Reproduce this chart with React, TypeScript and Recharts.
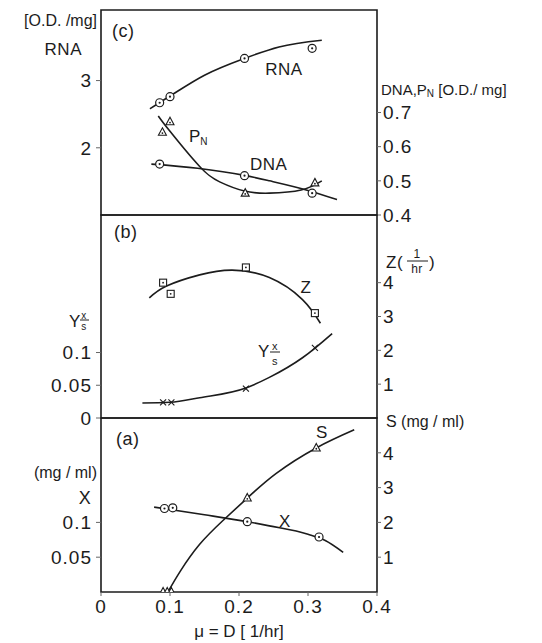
import {
  ComposedChart,
  XAxis,
  YAxis,
  Line,
  Scatter,
  ReferenceArea,
} from "recharts";

// ---- panel (c): RNA (left axis), DNA and P_N (right axis) ----
const rnaPoints = [
  { x: 0.085, y: 2.67 },
  { x: 0.1, y: 2.76 },
  { x: 0.208, y: 3.33 },
  { x: 0.306, y: 3.48 },
];
const rnaCurve = [
  { x: 0.071, y: 2.58 },
  { x: 0.1, y: 2.77 },
  { x: 0.15, y: 3.08 },
  { x: 0.208, y: 3.33 },
  { x: 0.258, y: 3.5 },
  { x: 0.32, y: 3.6 },
];
const dnaPoints = [
  { x: 0.085, y: 0.549 },
  { x: 0.208, y: 0.515 },
  { x: 0.306, y: 0.464 },
];
const dnaCurve = [
  { x: 0.073, y: 0.549 },
  { x: 0.14, y: 0.537 },
  { x: 0.208, y: 0.516 },
  { x: 0.244, y: 0.5 },
  { x: 0.3, y: 0.472 },
  { x: 0.342, y: 0.445 },
];
const pnPoints = [
  { x: 0.089, y: 0.642 },
  { x: 0.1, y: 0.673 },
  { x: 0.209, y: 0.464 },
  { x: 0.31, y: 0.494 },
];
const pnCurve = [
  { x: 0.083, y: 0.69 },
  { x: 0.1, y: 0.645 },
  { x: 0.143, y: 0.542 },
  { x: 0.172, y: 0.497 },
  { x: 0.208, y: 0.47 },
  { x: 0.244, y: 0.464 },
  { x: 0.29, y: 0.473 },
  { x: 0.32, y: 0.5 },
];

// ---- panel (b): Y x/s (left axis), Z (right axis) ----
const zPoints = [
  { x: 0.09, y: 4.0 },
  { x: 0.101, y: 3.67 },
  { x: 0.21, y: 4.45 },
  { x: 0.31, y: 3.1 },
];
const zCurve = [
  { x: 0.07, y: 3.55 },
  { x: 0.095, y: 3.9 },
  { x: 0.143, y: 4.23 },
  { x: 0.19, y: 4.37 },
  { x: 0.244, y: 4.15 },
  { x: 0.292, y: 3.5 },
  { x: 0.318, y: 2.8 },
];
const yieldPoints = [
  { x: 0.09, y: 0.024 },
  { x: 0.102, y: 0.024 },
  { x: 0.21, y: 0.045 },
  { x: 0.31, y: 0.107 },
];
const yieldCurve = [
  { x: 0.06, y: 0.023 },
  { x: 0.1, y: 0.024 },
  { x: 0.143, y: 0.031 },
  { x: 0.21, y: 0.046 },
  { x: 0.244, y: 0.062 },
  { x: 0.292, y: 0.092 },
  { x: 0.335, y: 0.129 },
];

// ---- panel (a): X (left axis), S (right axis) ----
const xPoints = [
  { x: 0.092, y: 0.12 },
  { x: 0.104, y: 0.121 },
  { x: 0.212, y: 0.101 },
  { x: 0.316, y: 0.079 },
];
const xCurve = [
  { x: 0.077, y: 0.122 },
  { x: 0.15, y: 0.111 },
  { x: 0.212, y: 0.101 },
  { x: 0.244, y: 0.095 },
  { x: 0.3, y: 0.083 },
  { x: 0.325, y: 0.074 },
  { x: 0.351, y: 0.057 },
];
const sPoints = [
  { x: 0.09, y: 0 },
  { x: 0.096, y: 0 },
  { x: 0.102, y: 0 },
  { x: 0.212, y: 2.7 },
  { x: 0.312, y: 4.14 },
];
const sCurve = [
  { x: 0.097, y: 0 },
  { x: 0.115, y: 0.6 },
  { x: 0.143, y: 1.37 },
  { x: 0.176, y: 2.04 },
  { x: 0.212, y: 2.7 },
  { x: 0.254, y: 3.41 },
  { x: 0.312, y: 4.14 },
  { x: 0.367, y: 4.66 },
];

const xTicks = [0, 0.1, 0.2, 0.3, 0.4];

const INK = "#1c1c1c";
const FONT = "'Liberation Sans', Arial, sans-serif";
const W = 542;
const H = 643;

const tickStyle = { fontSize: 19, fill: INK, fontFamily: FONT, letterSpacing: 1 };

const CircleDot = (p: any) => (
  <g>
    <circle cx={p.cx} cy={p.cy} r={4} fill="#fff" stroke={INK} strokeWidth={1.2} />
    <circle cx={p.cx} cy={p.cy} r={1.1} fill={INK} />
  </g>
);
const Tri = (p: any) => (
  <g>
    <path
      d={`M${p.cx},${p.cy - 4.5} L${p.cx + 4},${p.cy + 3} L${p.cx - 4},${p.cy + 3} Z`}
      fill="#fff"
      stroke={INK}
      strokeWidth={1.1}
    />
    <circle cx={p.cx} cy={p.cy + 0.8} r={0.9} fill={INK} />
  </g>
);
const Sq = (p: any) => (
  <g>
    <rect x={p.cx - 3.5} y={p.cy - 3.5} width={7} height={7} fill="#fff" stroke={INK} strokeWidth={1.1} />
    <circle cx={p.cx} cy={p.cy} r={0.9} fill={INK} />
  </g>
);
const Cross = (p: any) => (
  <g stroke={INK} strokeWidth={1.1}>
    <line x1={p.cx - 3} y1={p.cy - 3} x2={p.cx + 3} y2={p.cy + 3} />
    <line x1={p.cx - 3} y1={p.cy + 3} x2={p.cx + 3} y2={p.cy - 3} />
  </g>
);

function Panel(props: {
  top: number;
  bottom: number;
  leftDomain: number[];
  leftTicks: number[];
  rightDomain: number[];
  rightTicks: number[];
  showX?: boolean;
  children: any;
}) {
  const { top, bottom, leftDomain, leftTicks, rightDomain, rightTicks, showX } = props;
  const xAxisH = 45;
  return (
    <div style={{ position: "absolute", left: 0, top: 0 }}>
      <ComposedChart
        width={W}
        height={H}
        margin={{ top, right: 105, left: 41, bottom: showX ? H - bottom - xAxisH : H - bottom }}
      >
        <XAxis
          type="number"
          dataKey="x"
          domain={[0, 0.4]}
          ticks={xTicks}
          allowDataOverflow
          hide={!showX}
          height={xAxisH}
          axisLine={false}
          tickSize={4}
          tickMargin={4}
          tick={tickStyle}
          tickFormatter={(v: number) => (v === 0 ? "0" : String(v))}
          label={{
            value: "\u03bc = D [ 1/hr]",
            position: "insideBottom",
            offset: 0,
            style: { fontSize: 17, fill: INK, fontFamily: FONT },
          }}
        />
        <YAxis
          yAxisId="l"
          width={60}
          domain={leftDomain}
          ticks={leftTicks}
          allowDataOverflow
          axisLine={false}
          tickSize={5}
          tickMargin={4}
          tick={tickStyle}
        />
        <YAxis
          yAxisId="r"
          orientation="right"
          width={60}
          domain={rightDomain}
          ticks={rightTicks}
          allowDataOverflow
          axisLine={false}
          tickSize={4}
          tickMargin={2}
          tick={{ ...tickStyle, textAnchor: "start" }}
        />
        <ReferenceArea
          yAxisId="l"
          x1={0}
          x2={0.4}
          y1={leftDomain[0]}
          y2={leftDomain[1]}
          fill="none"
          stroke={INK}
          strokeWidth={1.6}
          ifOverflow="visible"
        />
        {props.children}
      </ComposedChart>
    </div>
  );
}

const lineProps = {
  dataKey: "y",
  stroke: INK,
  strokeWidth: 1.6,
  dot: false,
  activeDot: false,
  isAnimationActive: false,
};

const T = (p: any) => (
  <text
    x={p.x}
    y={p.y}
    fontSize={p.size || 17}
    fill={INK}
    fontFamily={FONT}
    textAnchor={p.anchor || "start"}
    dominantBaseline="central"
    letterSpacing={p.ls ?? 0.5}
  >
    {p.children}
  </text>
);

export default function App() {
  return (
    <div style={{ position: "absolute", left: 0, top: 0, width: W, height: H, background: "#fff" }}>
      {/* (c) */}
      <Panel top={10} bottom={215} leftDomain={[1, 4.05]} leftTicks={[2, 3]} rightDomain={[0.4, 1.0]} rightTicks={[0.4, 0.5, 0.6, 0.7]}>
        <Line yAxisId="l" type="monotone" data={rnaCurve} {...lineProps} />
        <Line yAxisId="r" type="monotone" data={dnaCurve} {...lineProps} />
        <Line yAxisId="r" type="natural" data={pnCurve} {...lineProps} />
        <Scatter yAxisId="l" data={rnaPoints} dataKey="y" shape={CircleDot} isAnimationActive={false} />
        <Scatter yAxisId="r" data={dnaPoints} dataKey="y" shape={CircleDot} isAnimationActive={false} />
        <Scatter yAxisId="r" data={pnPoints} dataKey="y" shape={Tri} isAnimationActive={false} />
      </Panel>
      {/* (b) */}
      <Panel top={215} bottom={418} leftDomain={[0, 0.31]} leftTicks={[0, 0.05, 0.1]} rightDomain={[0, 6]} rightTicks={[1, 2, 3, 4]}>
        <Line yAxisId="r" type="natural" data={zCurve} {...lineProps} />
        <Line yAxisId="l" type="monotone" data={yieldCurve} {...lineProps} />
        <Scatter yAxisId="r" data={zPoints} dataKey="y" shape={Sq} isAnimationActive={false} />
        <Scatter yAxisId="l" data={yieldPoints} dataKey="y" shape={Cross} isAnimationActive={false} />
      </Panel>
      {/* (a) */}
      <Panel top={418} bottom={592} showX leftDomain={[0, 0.25]} leftTicks={[0.05, 0.1]} rightDomain={[0, 5]} rightTicks={[1, 2, 3, 4]}>
        <Line yAxisId="l" type="monotone" data={xCurve} {...lineProps} />
        <Line yAxisId="r" type="natural" data={sCurve} {...lineProps} />
        <Scatter yAxisId="l" data={xPoints} dataKey="y" shape={CircleDot} isAnimationActive={false} />
        <Scatter yAxisId="r" data={sPoints} dataKey="y" shape={Tri} isAnimationActive={false} />
      </Panel>

      <svg width={W} height={H} style={{ position: "absolute", left: 0, top: 0, pointerEvents: "none" }}>
        {/* panel tags */}
        <T x={112} y={31} size={18}>(c)</T>
        <T x={114} y={232} size={18}>(b)</T>
        <T x={116} y={439} size={18}>(a)</T>

        {/* left axis titles */}
        <T x={97} y={20} size={16} anchor="end" ls={0}>[O.D. /mg]</T>
        <T x={82} y={49} size={17} anchor="end">RNA</T>
        <T x={69} y={321} size={17}>Y</T>
        <T x={84} y={315} size={10} anchor="middle">x</T>
        <line x1={80} y1={320} x2={89} y2={320} stroke={INK} strokeWidth={1} />
        <T x={84} y={326} size={10} anchor="middle">s</T>
        <T x={97} y={472} size={16} anchor="end" ls={0}>(mg / ml)</T>
        <T x={85} y={498} size={18} anchor="middle">X</T>

        {/* right axis titles */}
        <text x={381} y={89} fontSize={15} fill={INK} fontFamily={FONT} dominantBaseline="central">
          DNA,P
          <tspan fontSize={10} dy={4}>N</tspan>
          <tspan dy={-4}> [O.D./ mg]</tspan>
        </text>
        <T x={386} y={262} size={17}>Z(</T>
        <T x={417} y={254} size={12} anchor="middle">1</T>
        <line x1={407} y1={261} x2={428} y2={261} stroke={INK} strokeWidth={1} />
        <T x={417} y={269} size={12} anchor="middle">hr</T>
        <T x={429} y={262} size={17}>)</T>
        <T x={386} y={421} size={16} ls={0}>S (mg / ml)</T>

        {/* curve labels */}
        <T x={284} y={69} anchor="middle">RNA</T>
        <text x={189} y={136} fontSize={17} fill={INK} fontFamily={FONT} dominantBaseline="central">
          P<tspan fontSize={10} dy={5}>N</tspan>
        </text>
        <T x={250} y={164}>DNA</T>
        <T x={306} y={287} anchor="middle">Z</T>
        <T x={258} y={351}>Y</T>
        <T x={275} y={346} size={11} anchor="middle">x</T>
        <line x1={270} y1={352} x2={280} y2={352} stroke={INK} strokeWidth={1} />
        <T x={275} y={361} size={11} anchor="middle">s</T>
        <T x={322} y={432} anchor="middle">S</T>
        <T x={285} y={521} anchor="middle">X</T>
      </svg>
    </div>
  );
}
